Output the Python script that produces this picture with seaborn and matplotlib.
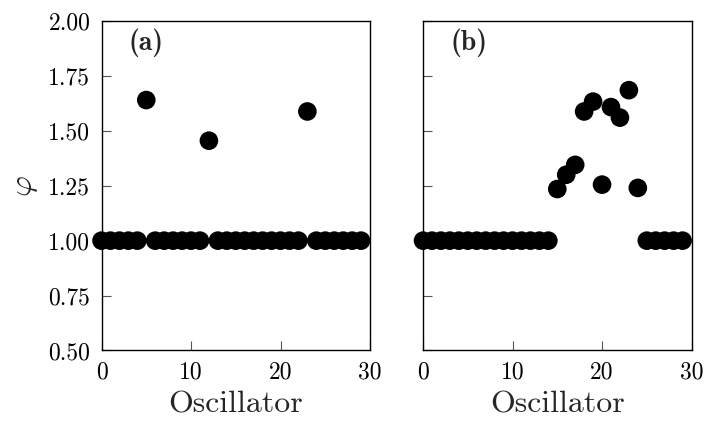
import numpy as np
import pandas as pd
import matplotlib
matplotlib.use("Agg")
import matplotlib.pyplot as plt
import seaborn as sns

# Phase-ratio values per oscillator for the two states
osc = list(range(30))
phi_a = [1.0, 1.0, 1.0, 1.0, 1.0, 1.64, 1.0, 1.0, 1.0, 1.0,
         1.0, 1.0, 1.455, 1.0, 1.0, 1.0, 1.0, 1.0, 1.0, 1.0,
         1.0, 1.0, 1.0, 1.588, 1.0, 1.0, 1.0, 1.0, 1.0, 1.0]
phi_b = [1.0, 1.0, 1.0, 1.0, 1.0, 1.0, 1.0, 1.0, 1.0, 1.0,
         1.0, 1.0, 1.0, 1.0, 1.0, 1.235, 1.30, 1.345, 1.588, 1.633,
         1.255, 1.608, 1.56, 1.685, 1.24, 1.0, 1.0, 1.0, 1.0, 1.0]
panel_labels = ["(a)", "(b)"]
x_ticks = [0, 10, 20, 30]
y_ticks = [0.50, 0.75, 1.00, 1.25, 1.50, 1.75, 2.00]

sns.set_theme(style="ticks")
plt.rcParams.update({
    "font.family": "serif",
    "font.serif": ["cmr10"],
    "mathtext.fontset": "cm",
    "axes.formatter.use_mathtext": True,
    "axes.unicode_minus": False,
    "axes.linewidth": 1.0,
    "axes.edgecolor": "black",
    "xtick.direction": "in",
    "ytick.direction": "in",
    "xtick.major.size": 6.5,
    "ytick.major.size": 6.5,
    "xtick.major.width": 0.8,
    "ytick.major.width": 0.8,
    "xtick.major.pad": 8,
    "ytick.major.pad": 8,
    "xtick.color": "#555555",
    "ytick.color": "#555555",
    "xtick.labelcolor": "black",
    "ytick.labelcolor": "black",
})

fig = plt.figure(figsize=(7.04, 4.21), dpi=100)
ax_a = fig.add_axes([0.1442, 0.1675, 0.3814, 0.7827])
ax_b = fig.add_axes([0.6009, 0.1675, 0.3814, 0.7827])

df = pd.DataFrame({"osc": osc + osc,
                   "phi": phi_a + phi_b,
                   "panel": ["a"] * len(osc) + ["b"] * len(osc)})

for ax, key, lab in zip([ax_a, ax_b], ["a", "b"], panel_labels):
    sns.scatterplot(data=df[df.panel == key], x="osc", y="phi", ax=ax,
                    color="black", s=180, edgecolor="none", legend=False,
                    clip_on=False, zorder=3)
    ax.set_xlim(0, 30)
    ax.set_ylim(0.5, 2.0)
    ax.set_xticks(x_ticks)
    ax.set_yticks(y_ticks)
    ax.set_xticklabels([str(t) for t in x_ticks], fontsize=17)
    ax.set_xlabel("Oscillator", fontsize=23, labelpad=5)
    ax.set_ylabel("")
    ax.text(0.102, 0.933, lab, transform=ax.transAxes, fontsize=20,
            family="cmb10", va="center", ha="left")

ax_a.set_yticklabels([f"{t:.2f}" for t in y_ticks], fontsize=17)
ax_a.set_ylabel(r"$\varphi$", fontsize=23, labelpad=6)
ax_b.set_yticklabels([])

fig.savefig("out.png", dpi=100)
